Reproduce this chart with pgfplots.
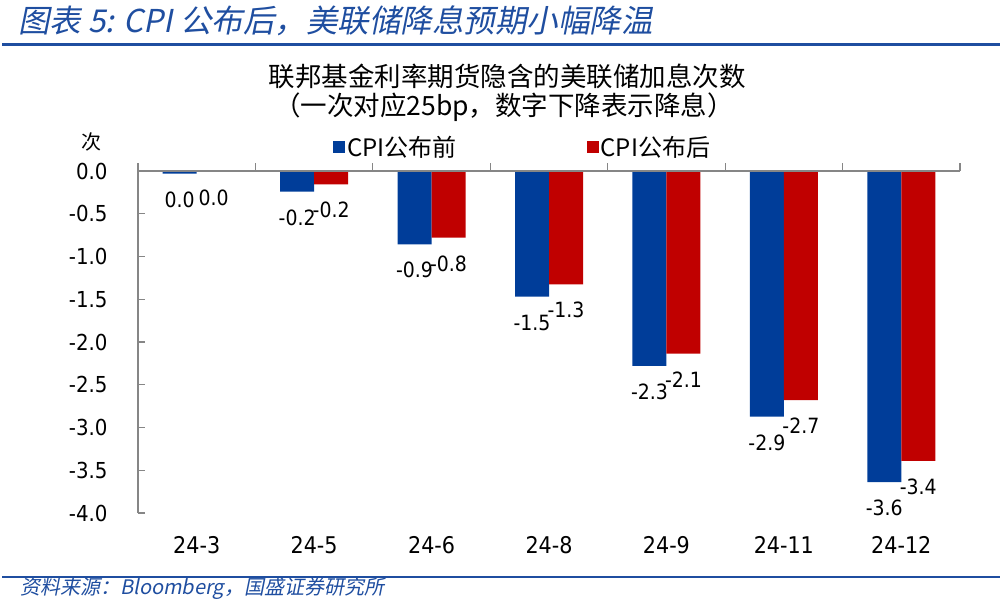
\documentclass[border=0pt]{standalone}
\usepackage{pgfplots}
\pgfplotsset{compat=1.18}
\usepackage{pgfplotstable}
\usepackage{fontspec}
\setmainfont{DejaVu Sans Condensed}
\newfontfamily\cjk{Noto Sans CJK SC}
\newfontfamily\cjkit[FakeSlant=0.2]{Noto Sans CJK SC}
\definecolor{bblue}{RGB}{0,61,153}
\definecolor{bred}{RGB}{192,0,0}
\definecolor{hblue}{RGB}{31,78,160}
\definecolor{agray}{RGB}{134,134,134}

\pgfplotstableread{
x y lab
0 -0.03 0.0
1 -0.24 -0.2
2 -0.857 -0.9
3 -1.47 -1.5
4 -2.28 -2.3
5 -2.873 -2.9
6 -3.64 -3.6
}\before
\pgfplotstableread{
x y lab
0 -0.006 0.0
1 -0.155 -0.2
2 -0.78 -0.8
3 -1.325 -1.3
4 -2.136 -2.1
5 -2.68 -2.7
6 -3.39 -3.4
}\after

\begin{document}
\begin{tikzpicture}
\path[use as bounding box] (0,0) rectangle (1000pt,603pt);
\node[anchor=west, font=\cjkit\fontsize{31.5}{33}\selectfont, text=hblue, inner sep=0] at (18pt,582pt) {图表 5: CPI 公布后，美联储降息预期小幅降温};
\draw[hblue, line width=3pt] (2pt,558pt) -- (1000pt,558pt);
\draw[hblue, line width=2.5pt] (2pt,26pt) -- (1000pt,26pt);
\node[anchor=west, font=\cjkit\fontsize{20}{22}\selectfont, text=hblue, inner sep=0] at (20pt,14pt) {资料来源：Bloomberg，国盛证券研究所};
\node[font=\cjk\fontsize{26.5}{28}\selectfont, inner sep=0] at (507pt,527pt) {联邦基金利率期货隐含的美联储加息次数};
\node[font=\cjk\fontsize{26.5}{28}\selectfont, inner sep=0] at (504pt,496pt) {（一次对应25bp，数字下降表示降息）};
\node[font=\cjk\fontsize{20}{22}\selectfont, inner sep=0] at (91pt,461pt) {次};

\begin{axis}[
  at={(138pt,90pt)}, anchor=south west,
  scale only axis, width=822pt, height=342pt,
  xmin=-0.5, xmax=6.5, ymin=-4, ymax=0,
  clip=false,
  axis x line*=bottom, axis y line*=left,
  x axis line style={draw=none},
  y axis line style={agray, line width=1.2pt},
  xtick={0,...,6},
  xticklabels={24-3,24-5,24-6,24-8,24-9,24-11,24-12},
  x tick style={draw=none},
  xticklabel style={font=\fontsize{23}{25}\selectfont, yshift=-20pt},
  ytick={0,-0.5,-1,-1.5,-2,-2.5,-3,-3.5,-4},
  yticklabels={0.0,-0.5,-1.0,-1.5,-2.0,-2.5,-3.0,-3.5,-4.0},
  yticklabel style={font=\fontsize{22}{24}\selectfont, xshift=-27pt},
  tick align=inside,
  y tick style={agray, line width=1.2pt},
  major tick length=7pt,
  legend columns=2,
  legend style={draw=none, fill=none, inner sep=0pt, at={(axis description cs:0.237,1.07)}, anchor=west, font=\cjk\fontsize{24}{26}\selectfont, /tikz/every even column/.append style={column sep=128pt}},
  nodes near coords, point meta=explicit symbolic,
  every node near coord/.append style={font=\fontsize{21}{23}\selectfont, anchor=center, yshift=-26pt},
]
\addplot[ybar, bar width=34pt, bar shift=-17pt, fill=bblue, draw=none, every node near coord/.append style={xshift=-17pt}, legend image code/.code={\fill[bblue] (0pt,-6pt) rectangle (12pt,6pt);}] table[x=x,y=y,meta=lab]{\before};
\addlegendentry{CPI公布前}
\addplot[ybar, bar width=34pt, bar shift=17pt, fill=bred, draw=none, every node near coord/.append style={xshift=17pt}, legend image code/.code={\fill[bred] (0pt,-6pt) rectangle (12pt,6pt);}] table[x=x,y=y,meta=lab]{\after};
\addlegendentry{CPI公布后}
\pgfplotsinvokeforeach{-0.5,0.5,1.5,2.5,3.5,4.5,5.5,6.5}{
  \draw[agray, line width=1.2pt] (axis cs:#1,0) -- ++(0pt,8pt);
}
\draw[agray, line width=1.2pt] (axis cs:-0.5,0) -- (axis cs:6.5,0);
\end{axis}
\end{tikzpicture}
\end{document}
